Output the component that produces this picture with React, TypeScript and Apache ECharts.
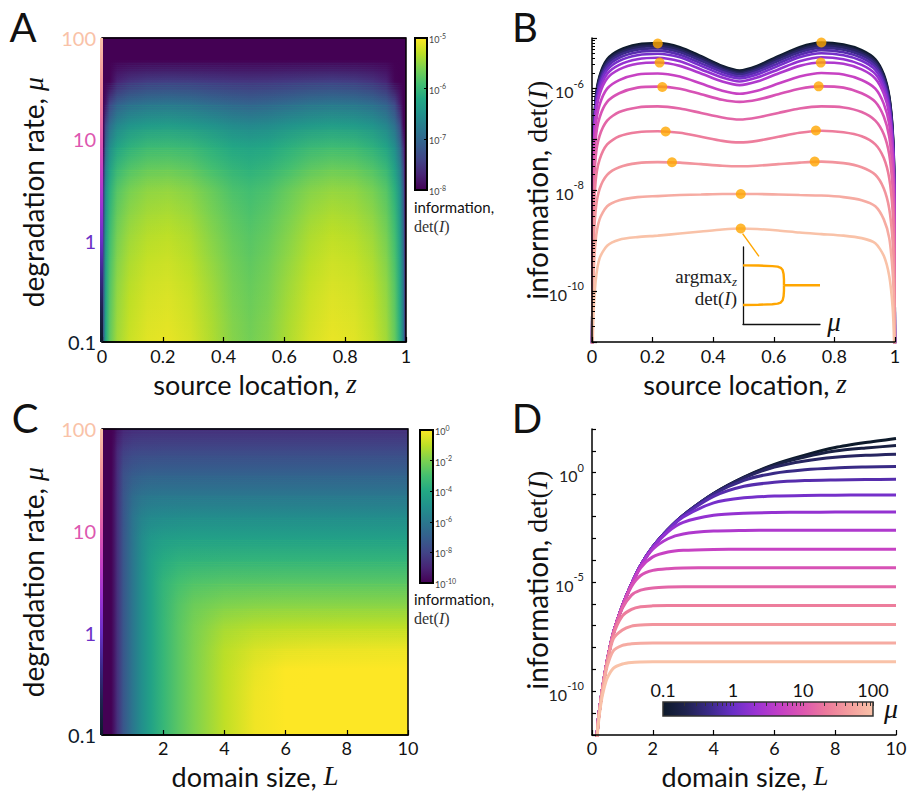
import React, { useEffect, useRef } from "react";
import * as echarts from "echarts";

const SANS = "Lato, 'Open Sans', 'Noto Sans', sans-serif";
const SERIF = "'Liberation Serif', 'DejaVu Serif', serif";

// colour maps
const VIRIDIS = ["#440154", "#482475", "#414487", "#355f8d", "#2a788e", "#21918c", "#22a884", "#44bf70", "#7ad151", "#bddf26", "#fde725"];
const MU_CMAP = ["#0d1a2b", "#1f2350", "#3b2a8a", "#6a2fc7", "#9b33d3", "#c33fc6", "#dd57b0", "#ec7a9c", "#f49e9e", "#f9c2a8"];

// ---------- Panels A / B : log10 det(I) vs source location z, one curve per mu ----------
const zNodes = [0, 0.004, 0.012, 0.025, 0.05, 0.09, 0.15, 0.217, 0.29, 0.36, 0.43, 0.487, 0.545, 0.615, 0.685, 0.757, 0.83, 0.89, 0.935, 0.963, 0.981, 0.992, 0.997, 1];
const muB = [0.1, 0.1638, 0.2683, 0.4394, 0.7197, 1.179, 1.931, 3.162, 5.179, 8.483, 13.89, 22.76, 37.28, 61.05, 100];
const detB_0 = [-12, -7.2, -6.2, -5.75, -5.42, -5.24, -5.13, -5.10, -5.18, -5.36, -5.55, -5.64, -5.55, -5.36, -5.18, -5.09, -5.13, -5.24, -5.42, -5.72, -6.15, -6.8, -7.6, -12];
const detB_1 = [-12, -7.23, -6.23, -5.78, -5.45, -5.27, -5.16, -5.13, -5.21, -5.38, -5.57, -5.66, -5.57, -5.38, -5.21, -5.12, -5.16, -5.27, -5.45, -5.75, -6.18, -6.83, -7.63, -12];
const detB_2 = [-12, -7.26, -6.26, -5.81, -5.48, -5.30, -5.19, -5.16, -5.24, -5.41, -5.60, -5.69, -5.60, -5.41, -5.24, -5.15, -5.19, -5.30, -5.48, -5.78, -6.21, -6.86, -7.66, -12];
const detB_3 = [-12, -7.3, -6.3, -5.85, -5.52, -5.34, -5.23, -5.20, -5.28, -5.45, -5.63, -5.72, -5.63, -5.45, -5.28, -5.19, -5.23, -5.34, -5.52, -5.82, -6.25, -6.9, -7.7, -12];
const detB_4 = [-12, -7.35, -6.35, -5.9, -5.57, -5.39, -5.28, -5.25, -5.33, -5.50, -5.67, -5.76, -5.67, -5.50, -5.33, -5.24, -5.28, -5.39, -5.57, -5.87, -6.3, -6.95, -7.75, -12];
const detB_5 = [-12, -7.41, -6.41, -5.96, -5.63, -5.45, -5.34, -5.31, -5.38, -5.55, -5.72, -5.80, -5.72, -5.55, -5.38, -5.30, -5.34, -5.45, -5.63, -5.93, -6.36, -7.01, -7.81, -12];
const detB_6 = [-12, -7.49, -6.49, -6.04, -5.71, -5.53, -5.42, -5.39, -5.46, -5.62, -5.78, -5.86, -5.78, -5.62, -5.46, -5.38, -5.42, -5.53, -5.71, -6.01, -6.44, -7.09, -7.89, -12];
const detB_7 = [-12, -7.55, -6.55, -6.12, -5.80, -5.62, -5.51, -5.485, -5.55, -5.70, -5.86, -5.93, -5.86, -5.70, -5.55, -5.485, -5.51, -5.62, -5.80, -6.1, -6.5, -7.15, -7.95, -12];
const detB_8 = [-12, -7.75, -6.75, -6.32, -6.0, -5.83, -5.72, -5.70, -5.76, -5.90, -6.04, -6.10, -6.04, -5.90, -5.76, -5.69, -5.72, -5.83, -6.0, -6.3, -6.7, -7.35, -8.15, -12];
const detB_9 = [-12, -8.0, -7.0, -6.57, -6.26, -6.09, -5.98, -5.96, -6.0, -6.11, -6.22, -6.26, -6.22, -6.11, -6.0, -5.955, -5.98, -6.09, -6.26, -6.55, -6.95, -7.6, -8.4, -12];
const detB_10 = [-12, -8.35, -7.35, -6.93, -6.63, -6.46, -6.37, -6.35, -6.39, -6.48, -6.57, -6.61, -6.57, -6.48, -6.39, -6.35, -6.37, -6.46, -6.63, -6.9, -7.3, -7.95, -8.75, -12];
const detB_11 = [-12, -8.8, -7.82, -7.4, -7.1, -6.94, -6.86, -6.84, -6.87, -6.95, -7.03, -7.06, -7.03, -6.95, -6.87, -6.83, -6.86, -6.94, -7.1, -7.37, -7.77, -8.4, -9.2, -12];
const detB_12 = [-12, -9.35, -8.4, -7.98, -7.7, -7.55, -7.47, -7.45, -7.46, -7.49, -7.52, -7.53, -7.52, -7.49, -7.46, -7.44, -7.47, -7.55, -7.7, -7.97, -8.37, -9.0, -9.8, -12];
const detB_13 = [-12, -9.9, -9.0, -8.58, -8.32, -8.2, -8.14, -8.12, -8.10, -8.09, -8.08, -8.08, -8.08, -8.09, -8.10, -8.11, -8.14, -8.2, -8.32, -8.58, -8.95, -9.6, -10.3, -12];
const detB_14 = [-12, -10.6, -9.8, -9.35, -9.1, -8.98, -8.93, -8.9, -8.86, -8.82, -8.78, -8.76, -8.77, -8.8, -8.84, -8.87, -8.9, -8.95, -9.05, -9.3, -9.7, -10.3, -11, -12];
const detB = [detB_0, detB_1, detB_2, detB_3, detB_4, detB_5, detB_6, detB_7, detB_8, detB_9, detB_10, detB_11, detB_12, detB_13, detB_14];

// argmax markers in B
const dotZ = [0.217, 0.757, 0.223, 0.755, 0.232, 0.748, 0.243, 0.739, 0.264, 0.735, 0.491, 0.491];
const dotLogDet = [-5.109, -5.089, -5.485, -5.485, -5.967, -5.954, -6.845, -6.825, -7.452, -7.439, -8.079, -8.759];
const connZ = [0.497, 0.551];
const connLogDet = [-8.86, -9.31];

// inset: argmax_z det(I) vs mu (normalised inset units)
const insetMuBranch = [0, 0.2, 0.38, 0.45, 0.49, 0.515, 0.527, 0.532, 0.532];
const insetUpperZ = [0.762, 0.759, 0.752, 0.745, 0.73, 0.7, 0.65, 0.58, 0.504];
const insetLowerZ = [0.247, 0.25, 0.257, 0.264, 0.279, 0.309, 0.36, 0.43, 0.504];
const insetMuTail = [0.532, 1];
const insetTailZ = [0.504, 0.504];

// ---------- Panels C / D : log10 det(I) vs domain size L, one curve per mu ----------
const LNodes = [0, 0.1, 0.2, 0.3, 0.4, 0.5, 0.7, 1, 1.3, 1.6, 2, 2.5, 3, 4, 5, 6, 7, 8, 9, 10];
const muD = [0.1, 0.1638, 0.2683, 0.4394, 0.7197, 1.179, 1.931, 3.162, 5.179, 8.483, 13.89, 22.76, 37.28, 61.05, 100];
const detD_0 = [-16, -13.5, -11.4, -10.3, -9.4, -8.6, -7.35, -6.1, -5.1, -4.25, -3.4, -2.6, -1.95, -0.95, -0.2, 0.38, 0.8, 1.15, 1.38, 1.57];
const detD_1 = [-16, -13.5, -11.4, -10.3, -9.4, -8.6, -7.35, -6.1, -5.1, -4.25, -3.4, -2.6, -1.95, -0.95, -0.21, 0.35, 0.72, 0.99, 1.13, 1.24];
const detD_2 = [-16, -13.5, -11.4, -10.3, -9.4, -8.6, -7.35, -6.1, -5.1, -4.25, -3.4, -2.6, -1.95, -0.96, -0.24, 0.26, 0.54, 0.71, 0.80, 0.85];
const detD_3 = [-16, -13.5, -11.4, -10.3, -9.4, -8.6, -7.35, -6.1, -5.1, -4.25, -3.4, -2.6, -1.95, -0.98, -0.35, -0.02, 0.14, 0.22, 0.26, 0.29];
const detD_4 = [-16, -13.5, -11.4, -10.3, -9.4, -8.6, -7.35, -6.1, -5.1, -4.25, -3.4, -2.6, -1.97, -1.08, -0.62, -0.44, -0.36, -0.33, -0.31, -0.30];
const detD_5 = [-16, -13.5, -11.4, -10.3, -9.4, -8.6, -7.35, -6.1, -5.1, -4.25, -3.4, -2.62, -2.03, -1.38, -1.15, -1.07, -1.04, -1.03, -1.02, -1.02];
const detD_6 = [-16, -13.5, -11.4, -10.3, -9.4, -8.6, -7.35, -6.1, -5.1, -4.25, -3.42, -2.7, -2.27, -1.95, -1.85, -1.82, -1.81, -1.8, -1.8, -1.8];
const detD_7 = [-16, -13.5, -11.4, -10.3, -9.4, -8.6, -7.35, -6.1, -5.1, -4.27, -3.5, -3.02, -2.8, -2.67, -2.64, -2.63, -2.63, -2.63, -2.63, -2.63];
const detD_8 = [-16, -13.5, -11.4, -10.3, -9.4, -8.6, -7.35, -6.1, -5.12, -4.35, -3.85, -3.63, -3.55, -3.51, -3.5, -3.5, -3.5, -3.5, -3.5, -3.5];
const detD_9 = [-16, -13.5, -11.4, -10.3, -9.4, -8.6, -7.35, -6.12, -5.2, -4.7, -4.47, -4.39, -4.36, -4.35, -4.35, -4.35, -4.35, -4.35, -4.35, -4.35];
const detD_10 = [-16, -13.5, -11.4, -10.3, -9.4, -8.6, -7.36, -6.2, -5.6, -5.37, -5.27, -5.23, -5.22, -5.22, -5.22, -5.22, -5.22, -5.22, -5.22, -5.22];
const detD_11 = [-16, -13.5, -11.4, -10.3, -9.4, -8.62, -7.42, -6.55, -6.25, -6.13, -6.09, -6.07, -6.07, -6.07, -6.07, -6.07, -6.07, -6.07, -6.07, -6.07];
const detD_12 = [-16, -13.5, -11.45, -10.33, -9.45, -8.68, -7.6, -7.2, -7.02, -6.97, -6.95, -6.94, -6.94, -6.94, -6.94, -6.94, -6.94, -6.94, -6.94, -6.94];
const detD_13 = [-16, -13.55, -11.5, -10.4, -9.55, -8.85, -8.15, -7.9, -7.83, -7.8, -7.79, -7.79, -7.79, -7.79, -7.79, -7.79, -7.79, -7.79, -7.79, -7.79];
const detD_14 = [-16, -13.6, -11.6, -10.5, -9.85, -9.4, -8.95, -8.75, -8.68, -8.66, -8.65, -8.65, -8.65, -8.65, -8.65, -8.65, -8.65, -8.65, -8.65, -8.65];
const detD = [detD_0, detD_1, detD_2, detD_3, detD_4, detD_5, detD_6, detD_7, detD_8, detD_9, detD_10, detD_11, detD_12, detD_13, detD_14];

// tick labels
const zTickLabels = ["0", "0.2", "0.4", "0.6", "0.8", "1"];
const muTickLabels = ["0.1", "1", "10", "100"];

const clamp01 = (t: number) => Math.max(0, Math.min(1, t));
const muColor = (mu: number) => echarts.color.lerp(clamp01((Math.log10(mu) + 1) / 3), MU_CMAP) as string;

function heatSeries(xi: number, yi: number, xs: number[], logMus: number[], rows: number[][], vmin: number, vmax: number) {
  return {
    type: "custom",
    xAxisIndex: xi,
    yAxisIndex: yi,
    silent: true,
    z: 1,
    data: logMus.slice(0, -1).map((y, i) => [xs[0], y, i]),
    renderItem: (params: any, api: any) => {
      const i = api.value(2);
      const p0 = api.coord([xs[0], logMus[i]]);
      const p1 = api.coord([xs[xs.length - 1], logMus[i + 1]]);
      const xL = p0[0], xR = p1[0], yB = p0[1], yT = p1[1];
      const grad = (r: number) =>
        new echarts.graphic.LinearGradient(0, 0, 1, 0,
          xs.map((x, j) => ({
            offset: clamp01((api.coord([x, logMus[i]])[0] - xL) / (xR - xL)),
            color: echarts.color.lerp(clamp01((rows[r][j] - vmin) / (vmax - vmin)), VIRIDIS) as string,
          })));
      const K = 12;
      const h = (yB - yT) / K;
      const children: any[] = [];
      for (let s = 0; s < K; s++) {
        const top = yB - (s + 1) * h;
        children.push({ type: "rect", shape: { x: xL, y: top - 0.4, width: xR - xL, height: h + 0.8 }, style: { fill: grad(i) } });
        children.push({ type: "rect", shape: { x: xL, y: top - 0.4, width: xR - xL, height: h + 0.8 }, style: { fill: grad(i + 1), opacity: (s + 0.5) / K } });
      }
      return { type: "group", children };
    },
  };
}

const G = {
  A: { left: 102, top: 38, width: 304, height: 304 },
  B: { left: 592, top: 38, width: 303, height: 304 },
  C: { left: 102, top: 429, width: 306, height: 306 },
  D: { left: 592, top: 429, width: 304, height: 306 },
  Acb: { left: 415, top: 38, width: 12, height: 152 },
  Ccb: { left: 420, top: 430, width: 13, height: 153 },
  Dcb: { left: 663, top: 702, width: 210, height: 14 },
  In: { left: 743, top: 247, width: 77, height: 77 },
};

function buildOption() {
  const minorLog = (lo: number, hi: number) => {
    const out: number[] = [];
    for (let e = lo; e < hi; e++) for (let k = 1; k <= 9; k++) out.push(e + Math.log10(k));
    out.push(hi);
    return out;
  };
  const tickStyle = { inside: true, length: 5, lineStyle: { color: "#000", width: 1.2 } };
  const lineBlack = { show: true, onZero: false, lineStyle: { color: "#000", width: 1.5 } };
  const noLine = { show: false, onZero: false };
  const tickLabel = { fontSize: 18, lineHeight: 18, fontFamily: SANS, color: "#111" };
  const supRich = (base: number, sup: number, color: string, lh: number) => ({
    b: { fontSize: base, fontFamily: SANS, color, verticalAlign: "bottom", lineHeight: lh },
    s: { fontSize: sup, fontFamily: SANS, color, verticalAlign: "top", lineHeight: lh },
  });
  const muRich: any = {};
  muTickLabels.forEach((_, i) => (muRich["c" + i] = { color: muColor(Math.pow(10, i - 1)), fontSize: 20, lineHeight: 20, fontFamily: SANS }));

  const grids: any[] = [G.A, G.B, G.C, G.D, G.Acb, G.Ccb, G.Dcb, G.In].map((g) => ({ ...g, containLabel: false }));
  const vGrad = () => new echarts.graphic.LinearGradient(0, 1, 0, 0, VIRIDIS.map((c, i) => ({ offset: i / (VIRIDIS.length - 1), color: c })));
  Object.assign(grids[4], { show: true, backgroundColor: vGrad(), borderColor: "#000", borderWidth: 2 });
  Object.assign(grids[5], { show: true, backgroundColor: vGrad(), borderColor: "#000", borderWidth: 2 });
  Object.assign(grids[6], {
    show: true, borderColor: "#333", borderWidth: 1.5,
    backgroundColor: new echarts.graphic.LinearGradient(0, 0, 1, 0, MU_CMAP.map((c, i) => ({ offset: i / (MU_CMAP.length - 1), color: c }))),
  });

  const hidden = { show: false };
  const xAxis: any[] = [
    { gridIndex: 0, type: "value", min: 0, max: 1, interval: 0.2, z: 10, axisLine: lineBlack, axisTick: tickStyle, splitLine: hidden,
      axisLabel: { ...tickLabel, margin: 5, formatter: (v: number) => zTickLabels[Math.round(v * 5)] } },
    { gridIndex: 1, type: "value", min: 0, max: 1, interval: 0.2, z: 10, axisLine: lineBlack, axisTick: tickStyle, splitLine: hidden,
      axisLabel: { ...tickLabel, margin: 5, formatter: (v: number) => zTickLabels[Math.round(v * 5)] } },
    { gridIndex: 2, type: "value", min: 0, max: 10, interval: 2, z: 10, axisLine: lineBlack, axisTick: tickStyle, splitLine: hidden,
      axisLabel: { ...tickLabel, margin: 4, formatter: (v: number) => (v === 0 ? "" : String(v)) } },
    { gridIndex: 3, type: "value", min: 0, max: 10, interval: 2, z: 10, axisLine: lineBlack, axisTick: tickStyle, splitLine: hidden,
      axisLabel: { ...tickLabel, margin: 4 } },
    { gridIndex: 4, type: "value", min: 0, max: 1, show: false, axisLine: noLine },
    { gridIndex: 5, type: "value", min: 0, max: 1, show: false, axisLine: noLine },
    { gridIndex: 6, type: "value", position: "top", min: -1, max: 2, interval: 1, z: 10, axisLine: noLine, splitLine: hidden,
      axisTick: { inside: true, length: 4, lineStyle: { color: "#333", width: 1 }, customValues: minorLog(-1, 2) },
      axisLabel: { fontSize: 18, lineHeight: 18, fontFamily: SANS, color: "#111", margin: 3, formatter: (v: number) => muTickLabels[Math.round(v + 1)] } },
    { gridIndex: 7, type: "value", min: 0, max: 1, axisLine: { show: true, onZero: false, lineStyle: { color: "#111", width: 1.3 } }, axisTick: hidden, axisLabel: hidden, splitLine: hidden },
  ];
  const yAxis: any[] = [
    { gridIndex: 0, type: "value", min: -1, max: 2, interval: 1, z: 10, axisLine: noLine, axisTick: hidden, splitLine: hidden,
      axisLabel: { margin: 6, formatter: (v: number) => `{c${Math.round(v + 1)}|${muTickLabels[Math.round(v + 1)]}}`, rich: muRich } },
    { gridIndex: 1, type: "value", position: "left", min: -11, max: -5, interval: 1, z: 10, axisLine: lineBlack, axisTick: tickStyle, splitLine: hidden,
      axisLabel: { margin: 8, formatter: (v: number) => (v === -6 || v === -8 || v === -10 ? `{b|10}{s|${v}}` : ""), rich: supRich(16, 11, "#222", 22) } },
    { gridIndex: 2, type: "value", min: -1, max: 2, interval: 1, z: 10, axisLine: noLine, axisTick: hidden, splitLine: hidden,
      axisLabel: { margin: 6, formatter: (v: number) => `{c${Math.round(v + 1)}|${muTickLabels[Math.round(v + 1)]}}`, rich: muRich } },
    { gridIndex: 3, type: "value", position: "left", min: -12, max: 2, interval: 1, z: 10, axisLine: lineBlack, axisTick: { ...tickStyle, length: 4 }, splitLine: hidden,
      axisLabel: { margin: 8, formatter: (v: number) => (v % 5 === 0 ? `{b|10}{s|${v}}` : ""), rich: supRich(16, 11, "#222", 22) } },
    { gridIndex: 4, type: "value", position: "right", min: -8, max: -5, interval: 1, z: 10, axisLine: noLine, splitLine: hidden,
      axisTick: { inside: true, length: 3, lineStyle: { color: "#000", width: 1 } },
      axisLabel: { margin: 2, formatter: (v: number) => `{b|10}{s|${v}}`, rich: supRich(9, 7, "#444", 12) } },
    { gridIndex: 5, type: "value", position: "right", min: -10, max: 0, interval: 2, z: 10, axisLine: noLine, splitLine: hidden,
      axisTick: { inside: true, length: 3, lineStyle: { color: "#000", width: 1 } },
      axisLabel: { margin: 2, formatter: (v: number) => `{b|10}{s|${v}}`, rich: supRich(9, 7, "#444", 12) } },
    { gridIndex: 6, type: "value", min: 0, max: 1, show: false, axisLine: noLine },
    { gridIndex: 7, type: "value", min: 0, max: 1, axisLine: { show: true, onZero: false, lineStyle: { color: "#111", width: 1.3 } }, axisTick: hidden, axisLabel: hidden, splitLine: hidden },
    { gridIndex: 1, type: "value", position: "left", offset: 0, min: -11, max: -5, z: 10, axisLine: noLine, axisLabel: hidden, splitLine: hidden,
      axisTick: { inside: true, length: 3, lineStyle: { color: "#000", width: 1 }, customValues: minorLog(-11, -5) } },
  ];

  const series: any[] = [];
  series.push(heatSeries(0, 0, zNodes, muB.map((m) => Math.log10(m)), detB, -8, -5));
  series.push(heatSeries(2, 2, LNodes, muD.map((m) => Math.log10(m)), detD, -10, 0));
  detB.forEach((vals, k) =>
    series.push({
      type: "line", xAxisIndex: 1, yAxisIndex: 1, symbol: "none", smooth: 0.25, silent: true, z: 3,
      lineStyle: { width: 2.6, color: muColor(muB[k]) },
      data: zNodes.map((z, j) => [z, vals[j]]),
    })
  );
  series.push({
    type: "line", xAxisIndex: 1, yAxisIndex: 1, symbol: "none", silent: true, z: 4,
    lineStyle: { width: 1.4, color: "#ffa600" }, data: connZ.map((z, i) => [z, connLogDet[i]]),
  });
  series.push({
    type: "scatter", xAxisIndex: 1, yAxisIndex: 1, symbolSize: 10, silent: true, z: 5,
    itemStyle: { color: "#ffa600" }, data: dotZ.map((z, i) => [z, dotLogDet[i]]),
  });
  detD.forEach((vals, k) =>
    series.push({
      type: "line", xAxisIndex: 3, yAxisIndex: 3, symbol: "none", smooth: 0.25, silent: true, z: 3,
      lineStyle: { width: 3, color: muColor(muD[k]) },
      data: LNodes.map((L, j) => [L, vals[j]]),
    })
  );
  const inset = (xs: number[], ys: number[]) => ({
    type: "line", xAxisIndex: 7, yAxisIndex: 7, symbol: "none", silent: true, z: 4,
    lineStyle: { width: 2.4, color: "#ffa600" }, data: xs.map((x, i) => [x, ys[i]]),
  });
  series.push(inset(insetMuBranch, insetUpperZ));
  series.push(inset(insetMuBranch, insetLowerZ));
  series.push(inset(insetMuTail, insetTailZ));

  const muGradV = () => new echarts.graphic.LinearGradient(0, 1, 0, 0, MU_CMAP.map((c, i) => ({ offset: i / (MU_CMAP.length - 1), color: c })));
  const txt = (x: number, y: number, text: string, rich: any, opts: any = {}) => ({
    type: "text", x, y, rotation: opts.rotation || 0, z: 100, silent: true,
    style: { text, rich, align: opts.align || "center", verticalAlign: "middle", fill: "#111" },
  });
  const letter = (x: number, y: number, t: string) => ({
    type: "text", x, y, z: 100, silent: true,
    style: { text: t, fontSize: 40, lineHeight: 40, fontFamily: SANS, align: "center", verticalAlign: "middle", fill: "#111" },
  });
  const richTitle = {
    a: { fontSize: 27, lineHeight: 22, fontFamily: SANS, fill: "#111" },
    i: { fontSize: 27, lineHeight: 22, fontFamily: SERIF, fontStyle: "italic", fill: "#111" },
    s: { fontSize: 27, lineHeight: 22, fontFamily: SERIF, fill: "#111" },
  };
  const richTitleV = {
    a: { fontSize: 28, lineHeight: 24, fontFamily: SANS, fill: "#111" },
    i: { fontSize: 28, lineHeight: 24, fontFamily: SERIF, fontStyle: "italic", fill: "#111" },
    s: { fontSize: 28, lineHeight: 24, fontFamily: SERIF, fill: "#111" },
  };
  const smallDet = { s: { fontSize: 16, fontFamily: SERIF, fill: "#333" }, i: { fontSize: 16, fontFamily: SERIF, fontStyle: "italic", fill: "#333" } };
  const graphic: any[] = [
    { type: "rect", z: 50, silent: true, shape: { x: G.A.left, y: G.A.top, width: G.A.width, height: G.A.height }, style: { fill: "none", stroke: "#000", lineWidth: 1.5 } },
    { type: "rect", z: 50, silent: true, shape: { x: G.C.left, y: G.C.top, width: G.C.width, height: G.C.height }, style: { fill: "none", stroke: "#000", lineWidth: 1.5 } },
    { type: "rect", z: 51, silent: true, shape: { x: G.A.left - 2, y: G.A.top, width: 3, height: G.A.height }, style: { fill: muGradV() } },
    { type: "rect", z: 51, silent: true, shape: { x: G.C.left - 2, y: G.C.top, width: 3, height: G.C.height }, style: { fill: muGradV() } },
    letter(23, 27, "A"),
    letter(525, 27, "B"),
    letter(25, 418, "C"),
    letter(527, 418, "D"),
    txt(255, 384, "{a|source location, }{i|z}", richTitle),
    txt(745, 384, "{a|source location, }{i|z}", richTitle),
    txt(255, 776, "{a|domain size, }{i|L}", richTitle),
    txt(745, 776, "{a|domain size, }{i|L}", richTitle),
    txt(33, 192, "{a|degradation rate, }{i|μ}", richTitleV, { rotation: Math.PI / 2 }),
    txt(33, 582, "{a|degradation rate, }{i|μ}", richTitleV, { rotation: Math.PI / 2 }),
    txt(537, 190, "{a|information, }{s|det(}{i|I}{s|)}", richTitleV, { rotation: Math.PI / 2 }),
    txt(537, 580, "{a|information, }{s|det(}{i|I}{s|)}", richTitleV, { rotation: Math.PI / 2 }),
    txt(414, 207, "{a|information,}", { a: { fontSize: 15, fontFamily: SANS, fill: "#111" } }, { align: "left" }),
    txt(414, 226, "{s|det(}{i|I}{s|)}", smallDet, { align: "left" }),
    txt(414, 599, "{a|information,}", { a: { fontSize: 15, fontFamily: SANS, fill: "#111" } }, { align: "left" }),
    txt(414, 618, "{s|det(}{i|I}{s|)}", smallDet, { align: "left" }),
    txt(737, 276, "{s|argmax}{u|z}", { s: { fontSize: 19, fontFamily: SERIF, fill: "#222" }, u: { fontSize: 13, fontFamily: SERIF, fontStyle: "italic", fill: "#222", padding: [10, 0, 0, 0] } }, { align: "right" }),
    txt(737, 298, "{s|det(}{i|I}{s|)}", { s: { fontSize: 19, fontFamily: SERIF, fill: "#222" }, i: { fontSize: 19, fontFamily: SERIF, fontStyle: "italic", fill: "#222" } }, { align: "right" }),
    txt(834, 322, "{i|μ}", { i: { fontSize: 27, fontFamily: SERIF, fontStyle: "italic", fill: "#111" } }),
    txt(891, 708, "{i|μ}", { i: { fontSize: 28, fontFamily: SERIF, fontStyle: "italic", fill: "#111" } }),
  ];

  return {
    animation: false,
    backgroundColor: "#fff",
    textStyle: { fontFamily: SANS },
    grid: grids,
    xAxis,
    yAxis,
    series,
    graphic: { elements: graphic },
  };
}

export default function App() {
  const ref = useRef<HTMLDivElement>(null);
  useEffect(() => {
    const chart = echarts.init(ref.current!, null, { renderer: "svg" });
    chart.setOption(buildOption() as any);
    return () => chart.dispose();
  }, []);
  return <div ref={ref} style={{ position: "fixed", left: 0, top: 0, width: 914, height: 799, background: "#fff" }} />;
}
